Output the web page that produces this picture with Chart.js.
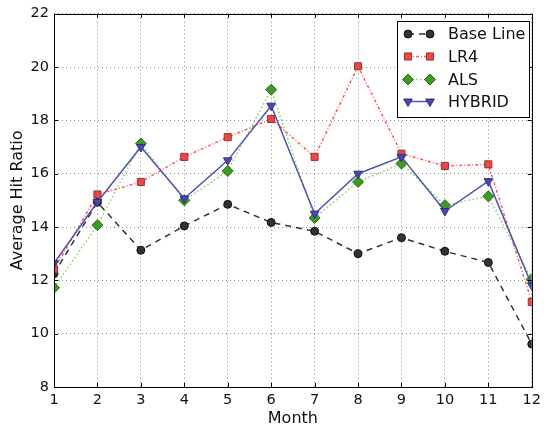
<!DOCTYPE html>
<html>
<head>
<meta charset="utf-8">
<script src="https://cdn.jsdelivr.net/npm/chart.js@4.4.1/dist/chart.umd.min.js"></script>
<style>
  html, body { margin: 0; padding: 0; background: #fff; }
  #wrap { width: 546px; height: 428px; }
</style>
</head>
<body>
<div id="wrap"><canvas id="chart" width="546" height="428"></canvas></div>
<script>
// --- Data ---
const months = ['1', '2', '3', '4', '5', '6', '7', '8', '9', '10', '11', '12'];
const baseLine = [12.25, 14.93, 13.13, 14.04, 14.85, 14.17, 13.84, 13.0, 13.6, 13.09, 12.67, 9.61];
const lr4      = [12.41, 15.22, 15.69, 16.63, 17.37, 18.05, 16.63, 20.03, 16.75, 16.29, 16.35, 11.19];
const als      = [11.72, 14.07, 17.13, 15.0, 16.1, 19.15, 14.34, 15.69, 16.38, 14.82, 15.15, 12.04];
const hybrid   = [12.64, 14.94, 17.0, 15.07, 16.5, 18.55, 14.5, 16.0, 16.63, 14.6, 15.72, 11.82];
const yTicks   = [8, 10, 12, 14, 16, 18, 20, 22];

const FONT = "'DejaVu Sans', sans-serif";

// series styles, also reused by the legend plugin
const series = [
    { label: 'Base Line', data: baseLine, line: '#333333', fill: '#333333', edge: '#111111', dash: [6, 5], style: 'circle', r: 4, rot: 0 },
    { label: 'LR4', data: lr4, line: '#ff5a5a', fill: '#e84848', edge: '#a03030', dash: [3, 2, 1, 2], style: 'rect', r: 5, rot: 0 },
    { label: 'ALS', data: als, line: '#77dd55', fill: '#3c9c22', edge: '#2a6a18', dash: [1.5, 2.5], style: 'rectRot', r: 5.5, rot: 0 },
    { label: 'HYBRID', data: hybrid, line: '#5050b8', fill: '#4848b0', edge: '#303080', dash: [], style: 'triangle', r: 5, rot: 180 }
];

// --- Legend drawn the matplotlib way: marker - line - marker ---
const legendPlugin = {
    id: 'mplLegend',
    afterDraw(chart) {
        const ctx = chart.ctx;
        const bx = 397, by = 21, bw = 132, bh = 96;
        ctx.save();
        ctx.fillStyle = '#fff';
        ctx.fillRect(bx, by, bw, bh);
        ctx.strokeStyle = '#000';
        ctx.lineWidth = 1;
        ctx.strokeRect(bx + 0.5, by + 0.5, bw, bh);
        const rows = [34, 56.5, 79.5, 101.5];
        series.forEach((s, i) => {
            const y = rows[i];
            ctx.save();
            ctx.strokeStyle = s.line;
            ctx.lineWidth = 1.5;
            ctx.setLineDash(s.dash);
            ctx.beginPath();
            ctx.moveTo(408, y);
            ctx.lineTo(430, y);
            ctx.stroke();
            ctx.restore();
            [408, 430].forEach(x => {
                ctx.save();
                ctx.fillStyle = s.fill;
                ctx.strokeStyle = s.edge;
                ctx.lineWidth = 1;
                Chart.helpers.drawPoint(ctx, { pointStyle: s.style, radius: s.r, rotation: s.rot, borderWidth: 1 }, x, y);
                ctx.restore();
            });
            ctx.fillStyle = '#111';
            ctx.font = '16px ' + FONT;
            ctx.textBaseline = 'middle';
            ctx.textAlign = 'left';
            ctx.fillText(s.label, 448, y + 1);
        });
        ctx.restore();
    }
};

// --- Inward tick marks on all four sides + frame ---
const ticksPlugin = {
    id: 'inwardTicks',
    afterDatasetsDraw(chart) {
        const ctx = chart.ctx;
        const a = chart.chartArea;
        const xs = chart.scales.x, ys = chart.scales.y;
        ctx.save();
        ctx.strokeStyle = '#000';
        ctx.lineWidth = 1;
        ctx.beginPath();
        months.forEach((m, i) => {
            const px = Math.round(xs.getPixelForValue(i)) + 0.5;
            ctx.moveTo(px, a.bottom); ctx.lineTo(px, a.bottom - 4);
            ctx.moveTo(px, a.top); ctx.lineTo(px, a.top + 4);
        });
        yTicks.forEach(v => {
            const py = Math.round(ys.getPixelForValue(v)) + 0.5;
            ctx.moveTo(a.left, py); ctx.lineTo(a.left + 4, py);
            ctx.moveTo(a.right, py); ctx.lineTo(a.right - 4, py);
        });
        ctx.stroke();
        ctx.strokeRect(Math.round(a.left) + 0.5, Math.round(a.top) + 0.5, Math.round(a.right - a.left), Math.round(a.bottom - a.top));
        ctx.restore();
    }
};

new Chart(document.getElementById('chart'), {
    type: 'line',
    data: {
        labels: months,
        datasets: series.map((s, i) => ({
            label: s.label,
            data: s.data,
            borderColor: s.line,
            borderWidth: 1.5,
            borderDash: s.dash,
            backgroundColor: s.fill,
            pointBackgroundColor: s.fill,
            pointBorderColor: s.edge,
            pointBorderWidth: 1,
            pointStyle: s.style,
            pointRadius: s.r,
            pointRotation: s.rot,
            tension: 0,
            fill: false,
            clip: 0,
            order: series.length - i
        }))
    },
    options: {
        responsive: false,
        animation: false,
        devicePixelRatio: 1,
        layout: { padding: { top: 13, right: 8, left: 8, bottom: 0 } },
        plugins: {
            legend: { display: false },
            tooltip: { enabled: false }
        },
        scales: {
            x: {
                type: 'category',
                offset: false,
                grid: { color: '#8a8a8a', lineWidth: 1, drawTicks: false },
                border: { display: false, dash: [1, 3] },
                ticks: { color: '#111', font: { family: FONT, size: 14.5 }, padding: 5, maxRotation: 0, autoSkip: false },
                title: { display: true, text: 'Month', color: '#111', font: { family: FONT, size: 16 }, padding: { top: 0, bottom: 0 } },
                afterFit(scale) { scale.height = 41; }
            },
            y: {
                min: 8, max: 22,
                afterBuildTicks(scale) { scale.ticks = yTicks.map(v => ({ value: v })); },
                grid: { color: '#8a8a8a', lineWidth: 1, drawTicks: false },
                border: { display: false, dash: [1, 3] },
                ticks: { color: '#111', font: { family: FONT, size: 14.5 }, padding: 5 },
                title: { display: true, text: 'Average Hit Ratio', color: '#111', font: { family: FONT, size: 16 }, padding: { top: 0, bottom: 0 } },
                afterFit(scale) { scale.width = 46; }
            }
        }
    },
    plugins: [ticksPlugin, legendPlugin]
});
</script>
</body>
</html>
